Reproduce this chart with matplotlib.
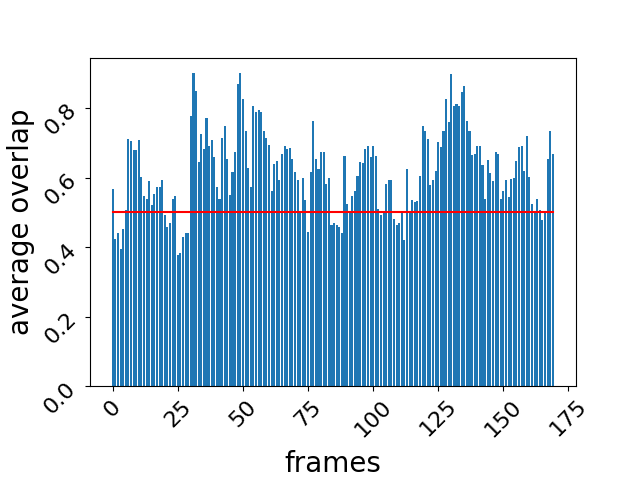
import numpy as np
import matplotlib
matplotlib.use('Agg')
import matplotlib.pyplot as plt


# average overlap per frame
overlap = [
    0.566, 0.425, 0.442, 0.396, 0.453, 0.508, 0.710, 0.704, 0.678, 0.678,
    0.707, 0.603, 0.548, 0.540, 0.589, 0.520, 0.554, 0.574, 0.574, 0.594,
    0.494, 0.459, 0.471, 0.540, 0.548, 0.379, 0.384, 0.430, 0.442, 0.442,
    0.776, 0.900, 0.848, 0.646, 0.724, 0.681, 0.770, 0.690, 0.707, 0.658,
    0.574, 0.540, 0.715, 0.747, 0.655, 0.551, 0.615, 0.675, 0.868, 0.900,
    0.825, 0.733, 0.629, 0.574, 0.807, 0.790, 0.793, 0.790, 0.733, 0.715,
    0.695, 0.563, 0.640, 0.649, 0.592, 0.669, 0.690, 0.681, 0.684, 0.655,
    0.615, 0.594, 0.505, 0.600, 0.537, 0.445, 0.615, 0.764, 0.655, 0.626,
    0.675, 0.675, 0.583, 0.600, 0.465, 0.471, 0.465, 0.459, 0.442, 0.661,
    0.523, 0.501, 0.548, 0.563, 0.606, 0.646, 0.643, 0.681, 0.690, 0.658,
    0.690, 0.661, 0.511, 0.494, 0.501, 0.583, 0.594, 0.594, 0.482, 0.465,
    0.471, 0.500, 0.422, 0.626, 0.501, 0.537, 0.531, 0.534, 0.606, 0.747,
    0.735, 0.712, 0.580, 0.594, 0.618, 0.701, 0.687, 0.733, 0.825, 0.761,
    0.897, 0.805, 0.813, 0.805, 0.845, 0.862, 0.764, 0.733, 0.664, 0.669,
    0.690, 0.692, 0.635, 0.540, 0.652, 0.612, 0.589, 0.675, 0.669, 0.540,
    0.563, 0.594, 0.543, 0.597, 0.600, 0.649, 0.687, 0.690, 0.618, 0.721,
    0.603, 0.523, 0.501, 0.540, 0.508, 0.477, 0.501, 0.655, 0.733, 0.669,
]
frames = np.arange(len(overlap))
threshold = 0.5


def main():
    fig, ax = plt.subplots(figsize=(6.4, 4.8), dpi=100)

    plt.bar(frames, overlap)
    plt.plot(frames, [threshold] * len(frames), 'r')

    ax.set_xlabel('frames', fontsize=20, labelpad=7)
    ax.set_ylabel('average overlap', fontsize=20)
    plt.xticks(fontsize=16, rotation=45)
    plt.yticks(fontsize=16, rotation=45)

    plt.subplots_adjust(left=0.14, bottom=0.195)
    plt.savefig('out.png')


if __name__ == "__main__":
    main()
